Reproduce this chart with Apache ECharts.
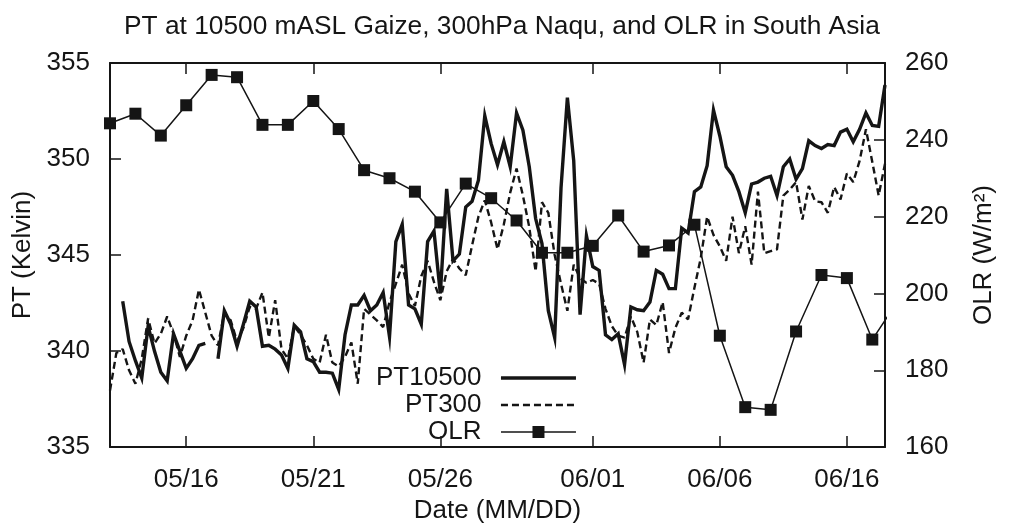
<!DOCTYPE html>
<html>
<head>
<meta charset="utf-8">
<script src="https://cdn.jsdelivr.net/npm/echarts@6/dist/echarts.min.js"></script>
<style>
html,body{margin:0;padding:0;background:#fff;}
#chart{width:1011px;height:529px;}
</style>
</head>
<body>
<div id="chart"></div>
<script>
// x positions are in days relative to 05/16 00:00
const tickDays = [0, 5, 10, 16, 21, 26];
const tickLabels = ['05/16', '05/21', '05/26', '06/01', '06/06', '06/16'];

// PT at 10500 m ASL (Gaize), 6-hourly, first value at day -2.5
const pt10500Start = -2.5;
const pt10500 = [
  342.6, 340.5, 339.5, 338.6, 341.3, 340.0, 338.9, 338.45, 340.9, 340.0,
  339.1, 339.6, 340.3, 340.4, null, 339.6, 342.1, 341.4, 340.25, 341.4,
  342.6, 342.3, 340.25, 340.3, 340.1, 339.8, 339.1, 341.35, 341.0, 339.6,
  339.45, 338.9, 338.9, 338.85, 338.0, 340.85, 342.4, 342.4, 342.9, 342.1,
  342.4, 343.05, 340.75, 345.7, 346.6, 342.4, 342.2, 341.4, 345.7, 346.25,
  343.0, 348.45, 344.7, 345.05, 347.5, 347.8, 348.9, 352.25, 350.8, 349.7,
  350.9, 349.6, 352.4, 351.5, 349.6, 346.9, 345.6, 342.1, 340.7, 348.5,
  353.2, 349.9, 341.9, 346.0, 344.4, 344.2, 340.85, 340.6, 340.9, 339.3,
  342.3, 342.15, 342.1, 342.55, 344.2, 344.0, 343.25, 343.25, 346.4, 346.15,
  348.3, 348.55, 349.65, 352.55, 351.2, 349.6, 349.15, 348.3, 347.2, 348.7,
  348.8, 349.0, 349.1, 348.1, 349.6, 350.0, 348.95, 349.5, 350.95, 350.7,
  350.55, 350.75, 350.7, 351.4, 351.55, 350.9, 351.55, 352.4, 351.75, 351.7,
  353.85
];

// PT at 300 hPa (Naqu), 6-hourly, first value at day -3
const pt300Start = -3;
const pt300 = [
  337.95, 339.9, 340.1, 339.0, 338.3, 339.6, 341.7, 340.4, 340.9, 341.8,
  340.9, 339.7, 340.8, 341.6, 343.2, 342.0, 340.8, 340.3, 342.0, 341.6,
  340.5, 341.2, 342.3, 342.2, 343.05, 340.7, 342.65, 340.1, 339.6, 341.3,
  340.85, 340.3, 339.6, 339.4, 340.85, 339.4, 339.2, 339.7, 340.45, 338.3,
  342.2, 341.9, 341.6, 341.25, 342.55, 343.5, 344.5, 343.0, 342.35, 343.9,
  344.7, 343.6, 342.65, 344.15, 344.8, 344.3, 343.95, 345.5, 347.0, 347.85,
  346.7, 345.3, 346.6, 348.25, 349.5, 348.1, 346.45, 344.15, 347.75, 347.2,
  345.0, 343.5, 342.1, 344.5, 343.8, 343.55, 343.7, 343.5, 342.2, 341.3,
  340.8, 340.7, 341.8, 341.0, 339.4, 341.65, 341.35, 342.55, 339.9, 341.2,
  342.0, 341.65, 343.3, 344.85, 347.0, 346.05, 345.45, 344.7, 347.0, 345.1,
  346.5, 344.5, 348.3, 345.1, 345.2, 345.3, 348.1, 348.4, 348.8, 346.85,
  348.6, 347.8, 347.75, 347.2, 348.55, 347.9, 349.25, 348.8, 349.9, 351.55,
  349.85, 348.1, 349.75
];

// OLR in South Asia, daily, first value at day -3
const olrStart = -3;
const olr = [
  244.3, 246.8, 241.1, 249.0, 256.9, 256.3, 243.9, 243.9, 250.1, 242.8,
  232.1, 230.0, 226.5, 218.5, 228.6, 224.8, 219.0, 210.6, 210.6, 212.4,
  220.3, 210.9, 212.5, 217.9, 189.0, 170.4, 169.7, 190.1, 204.8, 204.0,
  188.0, 198.0
];

function toPairs(start, step, arr) {
  return arr.map(function (v, i) { return [start + i * step, v == null ? '-' : v]; });
}

const FONT = "'Liberation Sans', Arial, Helvetica, sans-serif";
const INK = '#151515';

const chart = echarts.init(document.getElementById('chart'), null, {renderer: 'canvas'});

const xLabelFmt = function (v) {
  const i = tickDays.indexOf(v);
  return i >= 0 ? tickLabels[i] : '';
};

chart.setOption({
  backgroundColor: '#ffffff',
  animation: false,
  title: {
    text: 'PT at 10500 mASL Gaize, 300hPa Naqu, and OLR in South Asia',
    left: 119, top: 9,
    textStyle: {fontFamily: FONT, fontSize: 26.3, fontWeight: 'normal', color: INK}
  },
  legend: {
    orient: 'vertical',
    align: 'right',
    left: 376, top: 365,
    padding: 0,
    itemGap: 1,
    itemWidth: 75,
    itemHeight: 15,
    formatter: function (n) { return n + '  '; },
    textStyle: {fontFamily: FONT, fontSize: 26, lineHeight: 26, color: INK},
    data: [
      {name: 'PT10500', itemStyle: {opacity: 0}, lineStyle: {color: INK, width: 3.4, type: 'solid'}},
      {name: 'PT300', itemStyle: {opacity: 0}, lineStyle: {color: INK, width: 2.4, type: [7, 4]}},
      {name: 'OLR', lineStyle: {color: INK, width: 1.5, type: 'solid'}}
    ]
  },
  grid: {left: 110, right: 126, top: 63, bottom: 77},
  xAxis: [{
    type: 'value', min: -3, max: 27.5, position: 'bottom',
    name: 'Date (MM/DD)', nameLocation: 'middle', nameGap: 43,
    nameTextStyle: {fontFamily: FONT, fontSize: 26, color: INK},
    axisLine: {show: true, onZero: false, lineStyle: {color: INK, width: 2}},
    axisTick: {show: true, inside: true, length: 11, customValues: tickDays, lineStyle: {color: INK, width: 1.5}},
    axisLabel: {show: true, customValues: tickDays, formatter: xLabelFmt, margin: 20,
      fontFamily: FONT, fontSize: 26, color: INK},
    splitLine: {show: false}
  }, {
    type: 'value', min: -3, max: 27.5, position: 'top',
    axisLine: {show: true, onZero: false, lineStyle: {color: INK, width: 2}},
    axisTick: {show: true, inside: true, length: 11, customValues: tickDays, lineStyle: {color: INK, width: 1.5}},
    axisLabel: {show: false},
    splitLine: {show: false}
  }],
  yAxis: [{
    type: 'value', min: 335, max: 355, interval: 5, position: 'left',
    name: 'PT (Kelvin)', nameLocation: 'middle', nameGap: 74, nameRotate: 90,
    nameTextStyle: {fontFamily: FONT, fontSize: 26, color: INK},
    axisLine: {show: true, onZero: false, lineStyle: {color: INK, width: 2}},
    axisTick: {show: true, inside: true, length: 11, lineStyle: {color: INK, width: 1.5}},
    axisLabel: {margin: 20, fontFamily: FONT, fontSize: 26, color: INK},
    splitLine: {show: false}
  }, {
    type: 'value', min: 160, max: 260, interval: 20, position: 'right',
    name: 'OLR (W/m\u00B2)', nameLocation: 'middle', nameGap: 86, nameRotate: 90,
    nameTextStyle: {fontFamily: FONT, fontSize: 26, color: INK},
    axisLine: {show: true, onZero: false, lineStyle: {color: INK, width: 2}},
    axisTick: {show: true, inside: true, length: 11, lineStyle: {color: INK, width: 1.5}},
    axisLabel: {margin: 20, fontFamily: FONT, fontSize: 26, color: INK},
    splitLine: {show: false}
  }],
  series: [{
    name: 'PT10500', type: 'line', xAxisIndex: 0, yAxisIndex: 0,
    data: toPairs(pt10500Start, 0.25, pt10500),
    symbol: 'none', connectNulls: false,
    lineStyle: {color: INK, width: 3.4, join: 'miter'},
    itemStyle: {color: INK}
  }, {
    name: 'PT300', type: 'line', xAxisIndex: 0, yAxisIndex: 0,
    data: toPairs(pt300Start, 0.25, pt300),
    symbol: 'none',
    lineStyle: {color: INK, width: 2.4, type: [7, 4]},
    itemStyle: {color: INK}
  }, {
    name: 'OLR', type: 'line', xAxisIndex: 0, yAxisIndex: 1,
    data: toPairs(olrStart, 1, olr),
    symbol: 'rect', symbolSize: 12, showAllSymbol: true,
    lineStyle: {color: INK, width: 1.5},
    itemStyle: {color: INK, borderWidth: 0},
    clip: true, z: 5
  }]
});
</script>
</body>
</html>
